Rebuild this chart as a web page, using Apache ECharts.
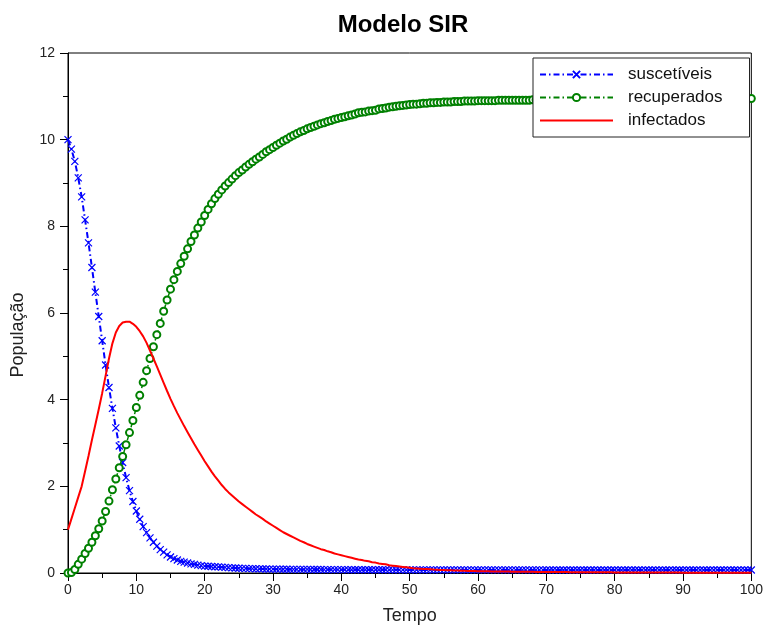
<!DOCTYPE html>
<html>
<head>
<meta charset="utf-8">
<script src="https://cdn.jsdelivr.net/npm/echarts@6/dist/echarts.min.js"></script>
<style>
html,body{margin:0;padding:0;background:#fff;}
#chart{width:766px;height:630px;}
</style>
</head>
<body>
<div id="chart"></div>
<script>
// sampling grid: t = 0 .. 100, step 0.5
const tStart = 0;
const tStep = 0.5;

const suscetiveis = [
10.0,9.78,9.5,9.12,8.68,8.15,7.62,7.05,6.48,5.92,
5.36,4.8,4.28,3.8,3.35,2.93,2.55,2.2,1.9,1.65,
1.43,1.24,1.07,0.93,0.81,0.71,0.62,0.54,0.48,0.42,
0.37,0.33,0.3,0.27,0.25,0.23,0.21,0.2,0.18,0.17,
0.16,0.155,0.15,0.145,0.14,0.135,0.13,0.125,0.12,0.115,
0.11,0.108,0.105,0.102,0.1,0.098,0.096,0.094,0.092,0.091,
0.09,
0.089,0.088,0.087,0.086,0.085,0.084,0.083,0.083,0.082,0.082,
0.081,0.081,0.080,0.080,0.079,0.079,0.078,0.078,0.077,0.077,
0.077,0.076,0.076,0.076,0.075,0.075,0.075,0.075,0.074,0.074,
0.074,0.074,0.074,0.073,0.073,0.073,0.073,0.073,0.072,0.072,
0.072,0.072,0.072,0.072,0.072,0.072,0.072,0.072,0.072,0.072,
0.072,0.072,0.072,0.072,0.072,0.072,0.072,0.072,0.072,0.072,
0.071,0.071,0.071,0.071,0.071,0.071,0.071,0.071,0.071,0.071,
0.071,0.071,0.071,0.071,0.071,0.071,0.071,0.071,0.071,0.071,
0.07,0.07,0.07,0.07,0.07,0.07,0.07,0.07,0.07,0.07,
0.07,0.07,0.07,0.07,0.07,0.07,0.07,0.07,0.07,0.07,
0.07,0.07,0.07,0.07,0.07,0.07,0.07,0.07,0.07,0.07,
0.07,0.07,0.07,0.07,0.07,0.07,0.07,0.07,0.07,0.07,
0.07,0.07,0.07,0.07,0.07,0.07,0.07,0.07,0.07,0.07,
0.07,0.07,0.07,0.07,0.07,0.07,0.07,0.07,0.07,0.07
];

const recuperados = [
0,0.01,0.08,0.2,0.32,0.45,0.57,0.71,0.86,1.02,
1.2,1.42,1.66,1.92,2.17,2.43,2.69,2.96,3.24,3.52,
3.82,4.1,4.4,4.67,4.95,5.22,5.5,5.76,6.04,6.3,
6.55,6.77,6.96,7.14,7.31,7.48,7.65,7.8,7.96,8.1,
8.25,8.39,8.52,8.64,8.74,8.84,8.93,9.01,9.09,9.17,
9.24,9.3,9.37,9.43,9.49,9.55,9.6,9.66,9.72,9.77,
9.82,
9.87,9.92,9.97,10.01,10.06,10.1,10.14,10.18,10.21,10.25,
10.28,10.31,10.34,10.37,10.39,10.42,10.44,10.47,10.49,10.51,
10.53,10.55,10.57,10.59,10.62,10.63,10.64,10.66,10.67,10.68,
10.71,10.72,10.73,10.75,10.76,10.77,10.78,10.79,10.8,10.81,
10.82,10.82,10.83,10.84,10.84,10.85,10.85,10.86,10.86,10.87,
10.87,10.87,10.88,10.88,10.88,10.89,10.89,10.89,10.89,10.9,
10.9,10.9,10.9,10.9,10.9,10.91,10.91,10.91,10.91,10.91,
10.91,10.91,10.91,10.91,10.91,10.92,10.92,10.92,10.92,10.92,
10.92,10.92,10.92,10.92,10.92,10.92,10.92,10.92,10.92,10.92,
10.93,10.93,10.93,10.93,10.93,10.93,10.93,10.93,10.93,10.93,
10.93,10.93,10.93,10.93,10.93,10.93,10.93,10.93,10.93,10.93,
10.94,10.94,10.94,10.94,10.94,10.94,10.94,10.94,10.94,10.94,
10.94,10.94,10.94,10.94,10.94,10.94,10.94,10.94,10.94,10.94,
10.95,10.95,10.95,10.95,10.95,10.95,10.95,10.95,10.95,10.95
];

const infectados = [
1.0,1.25,1.5,1.75,2.0,2.35,2.7,3.07,3.42,3.78,
4.15,4.55,4.95,5.3,5.55,5.7,5.78,5.8,5.8,5.75,
5.68,5.58,5.46,5.31,5.13,4.95,4.77,4.58,4.39,4.2,
4.02,3.85,3.69,3.54,3.39,3.25,3.11,2.97,2.84,2.71,
2.58,2.46,2.34,2.23,2.13,2.03,1.94,1.86,1.79,1.72,
1.65,1.59,1.53,1.47,1.41,1.35,1.3,1.25,1.19,1.14,
1.09,
1.04,0.99,0.94,0.9,0.86,0.82,0.78,0.74,0.71,0.67,
0.64,0.61,0.58,0.55,0.53,0.5,0.48,0.45,0.43,0.41,
0.39,0.37,0.35,0.33,0.31,0.3,0.28,0.27,0.25,0.24,
0.22,0.21,0.2,0.18,0.17,0.16,0.15,0.14,0.13,0.12,
0.11,0.105,0.1,0.095,0.09,0.085,0.08,0.076,0.072,0.068,
0.064,0.061,0.058,0.055,0.052,0.05,0.048,0.046,0.044,0.042,
0.04,0.039,0.038,0.037,0.036,0.035,0.034,0.033,0.032,0.031,
0.03,0.029,0.028,0.027,0.026,0.026,0.025,0.025,0.024,0.024,
0.023,0.023,0.022,0.022,0.021,0.021,0.02,0.02,0.019,0.019,
0.018,0.018,0.017,0.017,0.016,0.016,0.015,0.015,0.015,0.014,
0.014,0.014,0.013,0.013,0.013,0.012,0.012,0.012,0.011,0.011,
0.011,0.01,0.01,0.01,0.01,0.009,0.009,0.009,0.009,0.008,
0.008,0.008,0.008,0.008,0.007,0.007,0.007,0.007,0.007,0.006,
0.006,0.006,0.006,0.006,0.006,0.005,0.005,0.005,0.005,0.005
];

const seriesNames = ['suscetíveis', 'recuperados', 'infectados'];
const xTicks = { min: 0, max: 100, interval: 10 };
const yTicks = { min: 0, max: 12, interval: 2 };
const titleText = 'Modelo SIR';
const xName = 'Tempo';
const yName = 'População';

function pairs(values) {
  return values.map((v, i) => [tStart + i * tStep, v]);
}

const FONT = 'Liberation Sans, Arial, sans-serif';
const BLUE = '#0000ff';
const GREEN = '#008000';
const RED = '#ff0000';

const axisCommon = {
  axisLine: { show: true, lineStyle: { color: '#000', width: 1 } },
  axisTick: { show: true, inside: false, length: 8, lineStyle: { color: '#000' } },
  minorTick: { show: true, splitNumber: 2, length: 5, lineStyle: { color: '#000' } },
  splitLine: { show: false },
  minorSplitLine: { show: false },
  nameTextStyle: { fontFamily: FONT, fontSize: 18, color: '#222' }
};

const chart = echarts.init(document.getElementById('chart'), null, { renderer: 'canvas' });
chart.setOption({
  animation: false,
  backgroundColor: '#fff',
  title: {
    text: titleText,
    left: 398,
    textAlign: 'center',
    top: 8,
    textStyle: { fontFamily: FONT, fontSize: 24, fontWeight: 'bold', color: '#000' }
  },
  graphic: [{
    type: 'text',
    x: 18,
    y: 335,
    rotation: Math.PI / 2,
    style: {
      text: yName,
      fontFamily: FONT,
      fontSize: 18,
      fill: '#222',
      align: 'center',
      verticalAlign: 'middle'
    }
  }],
  grid: {
    left: 68, right: 13, top: 53, bottom: 57,
    show: true, borderColor: '#000', borderWidth: 1, backgroundColor: '#fff'
  },
  legend: {
    orient: 'vertical',
    left: 533,
    top: 58,
    data: [
      { name: seriesNames[0] },
      { name: seriesNames[1] },
      { name: seriesNames[2], itemStyle: { opacity: 0 } }
    ],
    backgroundColor: '#fff',
    borderColor: '#222',
    borderWidth: 1,
    padding: [8, 27, 8, 6],
    itemWidth: 73,
    itemHeight: 9,
    itemGap: 6,
    textStyle: { fontFamily: FONT, fontSize: 17, color: '#111', padding: [0, 0, 0, 10] }
  },
  xAxis: Object.assign({}, axisCommon, {
    type: 'value',
    min: xTicks.min, max: xTicks.max, interval: xTicks.interval,
    name: xName,
    nameLocation: 'middle',
    nameGap: 34,
    axisLabel: { fontFamily: FONT, fontSize: 14, color: '#222', margin: 10 }
  }),
  yAxis: Object.assign({}, axisCommon, {
    type: 'value',
    min: yTicks.min, max: yTicks.max, interval: yTicks.interval,
    axisLabel: { fontFamily: FONT, fontSize: 14, color: '#222', margin: 13 }
  }),
  series: [
    {
      name: seriesNames[0],
      type: 'line',
      data: pairs(suscetiveis),
      symbol: 'path://M0,0L10,10M10,0L0,10',
      symbolSize: 7,
      showAllSymbol: true,
      lineStyle: { color: BLUE, width: 2, type: [6, 3, 1.5, 3] },
      itemStyle: { color: BLUE, borderColor: BLUE, borderWidth: 1.2 },
      emphasis: { disabled: true },
      z: 2
    },
    {
      name: seriesNames[1],
      type: 'line',
      data: pairs(recuperados),
      symbol: 'emptyCircle',
      symbolSize: 7,
      showAllSymbol: true,
      lineStyle: { color: GREEN, width: 1.5, type: [6, 3, 1.5, 3] },
      itemStyle: { color: GREEN, borderColor: GREEN, borderWidth: 1.2 },
      emphasis: { disabled: true },
      z: 3
    },
    {
      name: seriesNames[2],
      type: 'line',
      data: pairs(infectados),
      symbol: 'none',
      showSymbol: false,
      lineStyle: { color: RED, width: 2, type: 'solid' },
      itemStyle: { color: RED },
      emphasis: { disabled: true },
      z: 4
    }
  ]
});
</script>
</body>
</html>
